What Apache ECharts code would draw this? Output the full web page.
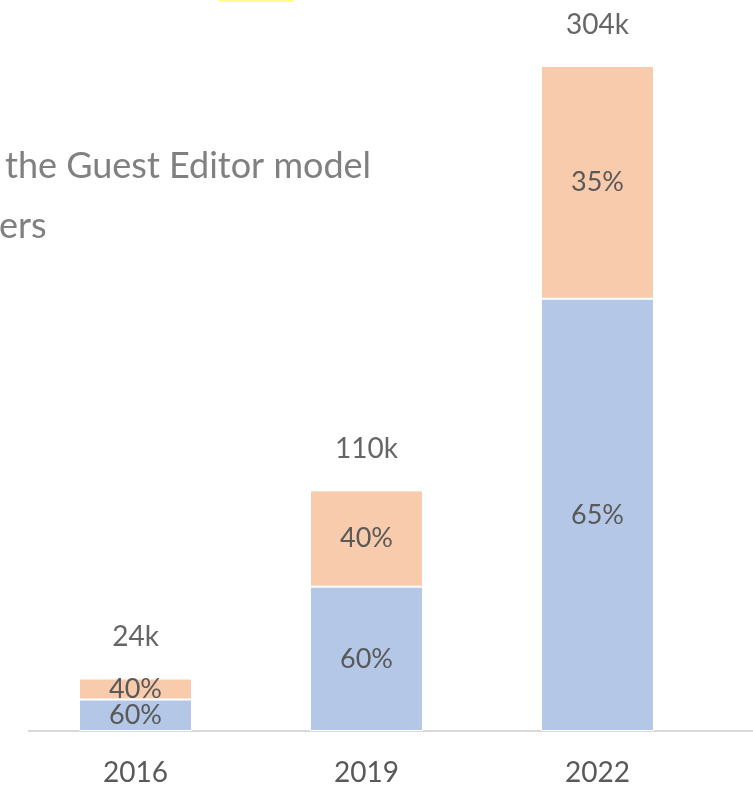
<!DOCTYPE html>
<html>
<head>
<meta charset="utf-8">
<script src="https://cdn.jsdelivr.net/npm/echarts@6/dist/echarts.min.js"></script>
<style>
  html, body { margin: 0; padding: 0; background: #ffffff; }
  #chart { width: 753px; height: 787px; }
</style>
</head>
<body>
<div id="chart"></div>
<script>
// Submissions per year (thousands) and the share of each segment
const years = ['2016', '2019', '2022'];
const totals = [24, 110, 304];
const bluePct = [60, 60, 65];
const orangePct = [40, 40, 35];
const totalLabels = ['24k', '110k', '304k'];
const noteLines = ['the Guest Editor model', 'ers'];

const FONT = 'Lato, "Open Sans", sans-serif';
const blueVals = totals.map((t, i) => t * bluePct[i] / 100);
const orangeVals = totals.map((t, i) => t * orangePct[i] / 100);

const chart = echarts.init(document.getElementById('chart'), null, { renderer: 'canvas' });

const pctLabel = (arr) => ({
  show: true,
  position: 'inside',
  color: '#595959',
  fontFamily: FONT,
  fontSize: 27,
  formatter: (p) => arr[p.dataIndex] + '%'
});

chart.setOption({
  animation: false,
  backgroundColor: '#ffffff',
  grid: { left: 20, width: 693, top: 31, bottom: 55, containLabel: false },
  xAxis: {
    type: 'category',
    data: years,
    axisLine: { show: false },
    axisTick: { show: false },
    axisLabel: { color: '#595959', fontFamily: FONT, fontSize: 28, margin: 28 }
  },
  yAxis: {
    type: 'value',
    min: 0,
    max: 320,
    show: false,
    splitLine: { show: false }
  },
  series: [
    {
      name: 'blue',
      type: 'bar',
      stack: 'total',
      barWidth: 113,
      data: blueVals,
      itemStyle: { color: '#b4c7e7', borderColor: '#ffffff', borderWidth: 1 },
      label: pctLabel(bluePct)
    },
    {
      name: 'orange',
      type: 'bar',
      stack: 'total',
      barWidth: 113,
      data: orangeVals,
      itemStyle: { color: '#f8cbad', borderColor: '#ffffff', borderWidth: 1 },
      label: pctLabel(orangePct)
    },
    {
      // invisible points carrying the total labels above each stack
      name: 'total',
      type: 'scatter',
      data: totals,
      symbolSize: 1,
      itemStyle: { color: 'rgba(255,255,255,0)' },
      silent: true,
      z: 5,
      label: {
        show: true,
        position: 'top',
        distance: 27,
        color: '#404040',
        fontFamily: FONT,
        fontSize: 28,
        formatter: (p) => totalLabels[p.dataIndex]
      }
    }
  ]
});

// Baseline across the full width and the side note text
const baseY = chart.convertToPixel({ yAxisIndex: 0 }, 0);
chart.setOption({
  graphic: [
    {
      type: 'line',
      shape: { x1: 28, y1: baseY, x2: 753, y2: baseY },
      style: { stroke: '#d9d9d9', lineWidth: 2 },
      z: 0
    },
    {
      type: 'rect',
      shape: { x: 219, y: 0, width: 75, height: 2 },
      style: { fill: '#fffd8c' }
    },
    {
      type: 'text',
      left: 5,
      top: 148,
      style: { text: noteLines[0], fill: '#808080', font: '36px ' + FONT }
    },
    {
      type: 'text',
      left: -1,
      top: 208,
      style: { text: noteLines[1], fill: '#808080', font: '36px ' + FONT }
    }
  ]
});
</script>
</body>
</html>
